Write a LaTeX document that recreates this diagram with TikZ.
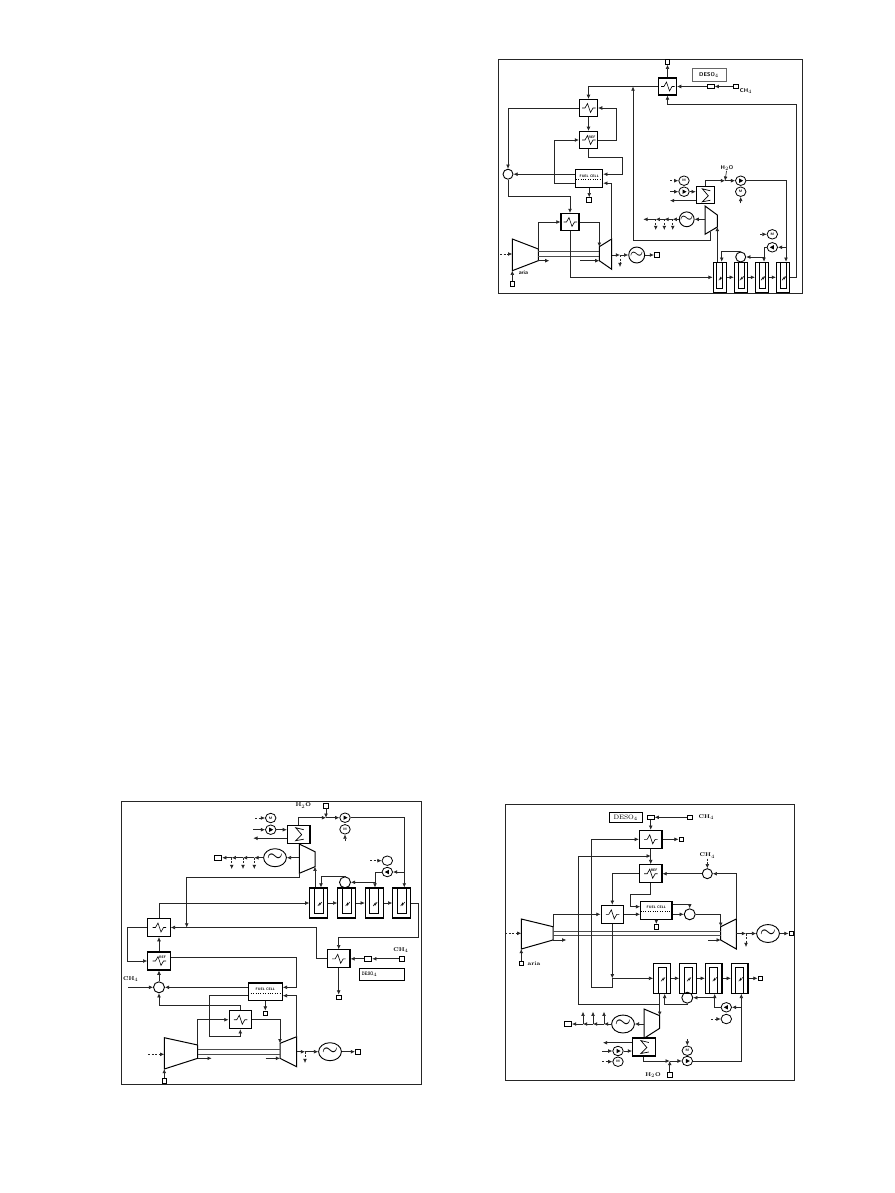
\documentclass[tikz,border=0pt]{standalone}
\usepackage{xcolor}
\usetikzlibrary{arrows.meta,shapes.geometric}
\newcommand{\labfont}{\fontsize{5.5}{6}\selectfont\bfseries}
\newcommand{\tinyfont}{\fontsize{3.5}{4}\selectfont\bfseries\sffamily}

\begin{document}
\begin{tikzpicture}[x=1pt, y=-1pt, >={Latex[length=4.2pt,width=3.8pt]}]

	% Styles
	\tikzstyle{frame} = [draw=black!85, line width=0.9pt]
	\tikzstyle{pipe} = [draw=black!85, line width=0.65pt]
	\tikzstyle{flow} = [pipe, ->]
	\tikzstyle{dashflow} = [flow, dash pattern=on 2pt off 1.5pt]
	\tikzstyle{shaft} = [draw=black!70, line width=0.7pt]
	\tikzstyle{machine} = [draw=black, line width=1pt]
	\tikzstyle{hx} = [rectangle, draw, line width=1.1pt, inner sep=0pt, minimum width=18pt, minimum height=17pt,
		path picture={\draw[line width=0.6pt] ([xshift=-6.5pt]path picture bounding box.center) -- ++(3pt,0) -- ++(2.5pt,4.5pt) -- ++(3pt,-9pt) -- ++(2.5pt,4.5pt) -- ++(2.5pt,0);}]
	\tikzstyle{hxb} = [hx, minimum width=22.5pt, minimum height=18pt]
	\tikzstyle{hxs} = [rectangle, draw, line width=1.1pt, inner sep=0pt, minimum width=18pt, minimum height=17pt,
		path picture={\draw[line width=0.7pt] ([shift={(5pt,4.5pt)}]path picture bounding box.center) -- ++(-8pt,2pt) -- ++(6pt,-7pt) -- ++(-6pt,-6pt) -- ++(8pt,1.5pt);}]
	\tikzstyle{hxsb} = [hxs, minimum width=22.5pt, minimum height=18pt]
	\tikzstyle{ref} = [label={[label distance=-7.5pt, xshift=3.5pt, font=\tinyfont, inner sep=0pt]north:REF}]
	\tikzstyle{fuel} = [rectangle, draw, line width=1.1pt, inner sep=0pt, font=\tinyfont, text height=3pt, text depth=6pt, minimum height=17.5pt,
		path picture={\draw[dotted, line width=0.4pt] ([yshift=-1pt]path picture bounding box.west) -- ([yshift=-1pt]path picture bounding box.east);}]
	\tikzstyle{cell} = [rectangle, draw, line width=1.1pt, inner sep=0pt, minimum width=13pt, minimum height=30pt,
		path picture={\draw[line width=0.5pt] ([shift={(-3pt,15pt)}]path picture bounding box.center) -- ++(0,-26pt) -- ++(6pt,0) -- ++(0,26pt);
			\draw[line width=0.5pt] ([shift={(-1pt,-3pt)}]path picture bounding box.center) -- ++(2pt,3pt) -- ++(0,-2pt) -- ++(2pt,3pt);}]
	\tikzstyle{cellb} = [rectangle, draw, line width=1.1pt, inner sep=0pt, minimum width=17.8pt, minimum height=30pt,
		path picture={\draw[line width=0.5pt] ([shift={(-4.5pt,15pt)}]path picture bounding box.center) -- ++(0,-25pt) -- ++(9pt,0) -- ++(0,25pt);
			\draw[line width=0.5pt] ([shift={(-1pt,-3pt)}]path picture bounding box.center) -- ++(2pt,3pt) -- ++(0,-2pt) -- ++(2pt,3pt);}]
	\tikzstyle{celln} = [rectangle, draw, line width=1.1pt, inner sep=0pt, minimum width=16.6pt, minimum height=30pt,
		path picture={\draw[line width=0.5pt] ([shift={(-4pt,-15pt)}]path picture bounding box.center) -- ++(0,26pt) -- ++(8pt,0) -- ++(0,-26pt);
			\draw[line width=0.5pt] ([shift={(-1pt,-3pt)}]path picture bounding box.center) -- ++(2pt,3pt) -- ++(0,-2pt) -- ++(2pt,3pt);}]
	\tikzstyle{mix} = [circle, draw, line width=0.9pt, inner sep=0pt, minimum size=10pt]
	\tikzstyle{motor} = [ellipse, draw, line width=0.8pt, inner sep=0pt, minimum width=10.5pt, minimum height=9.5pt, font=\tinyfont]
	\tikzstyle{pump} = [ellipse, draw, line width=0.8pt, inner sep=0pt, minimum width=10.5pt, minimum height=9.5pt,
		path picture={\fill ([xshift=2.5pt]path picture bounding box.center) -- ++(-4pt,2.2pt) -- ++(0,-4.4pt) -- cycle;}]
	\tikzstyle{pumpl} = [ellipse, draw, line width=0.8pt, inner sep=0pt, minimum width=10.5pt, minimum height=9.5pt,
		path picture={\fill ([xshift=-2.5pt]path picture bounding box.center) -- ++(4pt,2.2pt) -- ++(0,-4.4pt) -- cycle;}]
	\tikzstyle{gen} = [circle, draw, line width=0.9pt, inner sep=0pt, minimum size=16pt, font=\LARGE]
	\tikzstyle{genb} = [ellipse, draw, line width=0.9pt, inner sep=0pt, minimum width=21.5pt, minimum height=18pt, font=\huge]
	\tikzstyle{port} = [rectangle, draw, line width=0.9pt, inner sep=0pt, minimum size=4.6pt]
	\tikzstyle{portw} = [port, minimum width=7pt]
	\tikzstyle{lab} = [inner sep=0pt, font=\labfont]
	\tikzstyle{labs} = [lab, font=\labfont\sffamily]

	\path[fill=white, use as bounding box] (0,0) rectangle (894,1193);

	% Frames
	\draw[frame] (498,59) rectangle (802,293);
	\draw[frame] (121.7,801.7) rectangle (421,1084.3);
	\draw[frame] (505.3,804.3) rectangle (794,1080);

	% ---- upper plant ----
	% Nodes
	\node[hx] (aHa) at (667.5,86.5) {};
	\node[port] (aPa) at (667.5,62) {};
	\node[rectangle, draw=black!60, line width=0.4pt, minimum width=34pt, minimum height=13pt, inner sep=0pt, font=\labfont\sffamily] (aDes) at (709,75) {DESO$_4$};
	\node[portw] (aPb) at (710.7,86.5) {};
	\node[port] (aPc) at (736,86.5) {};
	\node[labs] (aLc) at (746,91) {CH$_4$};
	\node[hx] (aHb) at (588.5,108) {};
	\node[hx, ref] (aHc) at (588.5,140) {};
	\node[fuel, minimum width=27pt] (aFc) at (589.2,178.7) {FUEL CELL};
	\node[port] (aPd) at (589.2,200) {};
	\node[mix] (aMx) at (508,174.2) {};
	\node[hx] (aHd) at (570,222) {};
	\node[hxs] (aHe) at (705.3,195.3) {};
	\node[motor] (aMa) at (684,180.7) {M};
	\node[pump] (aPm1) at (684,191.7) {};
	\node[pump] (aPm2) at (740.7,180.7) {};
	\node[motor] (aMb) at (740.7,191.7) {M};
	\node[labs] (aLh) at (727,168) {H$_2$O};
	\node[gen, minimum size=14pt] (aGb) at (686.7,219.3) {$\sim$};
	\node[gen] (aGa) at (636.7,255) {$\sim$};
	\node[port] (aPf) at (656.7,255) {};
	\node[port] (aPe) at (512.3,284) {};
	\node[labs] (aLa) at (523.5,272.7) {aria};
	\node[cell] (aCe1) at (719.7,277.3) {};
	\node[cell] (aCe2) at (740.8,277.3) {};
	\node[cell] (aCe3) at (762,277.3) {};
	\node[cell] (aCe4) at (783,277.3) {};
	\node[mix] (aMy) at (740.7,257) {};
	\node[pumpl] (aPm3) at (772.3,247.3) {};
	\node[motor] (aMc) at (772.3,234.3) {M};

	% Machines
	\coordinate (aCa) at (512.3,239);
	\coordinate (aCb) at (538.3,249);
	\coordinate (aCc) at (538.3,260.7);
	\coordinate (aCd) at (512.3,270.7);
	\coordinate (aCi) at (512.3,254);
	\coordinate (aTa) at (599.3,246.7);
	\coordinate (aTb) at (611.7,239);
	\coordinate (aTc) at (611.7,269.3);
	\coordinate (aTd) at (599.3,260.7);
	\coordinate (aTe) at (611.7,255);
	\coordinate (aUa) at (705,206);
	\coordinate (aUb) at (717.3,215);
	\coordinate (aUc) at (717.3,227);
	\coordinate (aUd) at (705,234.3);
	\coordinate (aUe) at (705,219.3);
	\coordinate (aUf) at (710,231.8);
	\draw[machine] (aCa) -- (aCb) -- (aCc) -- (aCd) -- cycle;
	\draw[machine] (aTa) -- (aTb) -- (aTc) -- (aTd) -- cycle;
	\draw[machine] (aUa) -- (aUb) -- (aUc) -- (aUd) -- cycle;

	% Free ends
	\coordinate (aIn) at (500,254);
	\coordinate (aXa) at (549.3,260.7);
	\coordinate (aXb) at (580,260.7);
	\coordinate (aJa) at (633,86.5);
	\coordinate (aJb) at (620,255);
	\coordinate (aDa) at (620,267);
	\coordinate (aJc) at (725,180.7);
	\coordinate (aIa) at (670,180.7);
	\coordinate (aIb) at (670,191.7);
	\coordinate (aOa) at (670,200.6);
	\coordinate (aIc) at (740.7,203.3);
	\coordinate (aJd) at (672.7,219.3);
	\coordinate (aJe) at (664.3,219.3);
	\coordinate (aJf) at (655.7,219.3);
	\coordinate (aOb) at (643.3,219.3);
	\coordinate (aDb) at (672.7,230);
	\coordinate (aDc) at (664.3,230);
	\coordinate (aDd) at (655.7,230);
	\coordinate (aIe) at (760,234.3);

	% Arrows
	\draw[shaft] (538.3,251.3) -- (599.3,251.3);
	\draw[shaft] (538.3,256.7) -- (599.3,256.7);
	\draw[flow] (aPc) -- (aPb);
	\draw[flow] (aPb) -- (aHa);
	\draw[flow] (aHa) -- (aPa);
	\draw[flow] (aHa) -| (aHb);
	\draw[flow] (aHb) -- (aHc);
	\draw[flow] (aHc) -- (616,140) |- (aHb);
	\draw[flow] (aHb) -| (aMx);
	\draw[flow] ([yshift=-4.5pt]aFc.west) -| (554.3,140) -- (aHc);
	\draw[flow] (aHc) -- (588.5,157.3) -| (622.7,174.2) -- ([yshift=4.5pt]aFc.east);
	\draw[flow] ([yshift=4.5pt]aFc.west) -- (aMx);
	\draw[flow] (aMx) -- (508,196.7) -| (aHd);
	\draw[flow] (aFc) -- (aPd);
	\draw[flow] (aCb) |- (aHd);
	\draw[flow] (aHd) -| (aTa);
	\draw[flow] (aTb) |- ([yshift=-4.5pt]aFc.east);
	\draw[flow] (aHd) |- (aCe1);
	\draw[dashflow] (aIn) -- (aCi);
	\draw[flow] (aPe) -- (aCd);
	\draw[flow] (aCc) -- (aXa);
	\draw[flow] (aXb) -- (aTd);
	\draw[flow] (aTe) -- (aJb);
	\draw[flow] (aJb) -- (aGa);
	\draw[dashflow] (aJb) -- (aDa);
	\draw[flow] (aGa) -- (aPf);
	\draw[flow] (aLh) -- (aJc);
	\draw[flow] (aHe) |- (aJc);
	\draw[flow] (aJc) -- (aPm2);
	\draw[flow] (aPm2) -| ([xshift=3pt]aCe4.north);
	\draw[dashflow] (aIa) -- (aMa);
	\draw[flow] (aIb) -- (aPm1);
	\draw[flow] (aPm1) -- ([yshift=3.6pt]aHe.west);
	\draw[flow] ([yshift=-5.3pt]aHe.west) -- (aOa);
	\draw[dashflow] (aIc) -- (aMb);
	\draw[flow] (aUe) -- (aGb);
	\draw[flow] (aGb) -- (aJd);
	\draw[flow] (aJd) -- (aJe);
	\draw[flow] (aJe) -- (aJf);
	\draw[flow] (aJf) -- (aOb);
	\draw[dashflow] (aJd) -- (aDb);
	\draw[dashflow] (aJe) -- (aDc);
	\draw[dashflow] (aJf) -- (aDd);
	\draw[flow] (aUf) -- (710,240.7) -| (aJa);
	\draw[flow] ([xshift=-2.4pt]aCe1.north) -- (aUc);
	\draw[flow] (aMy) -- (740.7,251.7) -| ([xshift=2pt]aCe1.north);
	\draw[flow] (aCe1) -- (aCe2);
	\draw[flow] (aCe2) -- (aCe3);
	\draw[flow] (aCe3) -- (aCe4);
	\draw[flow] (aPm3) -| ([xshift=2pt]aCe3.north);
	\draw[flow] (764,257) -- (aMy);
	\draw[flow] (786,247.3) -- (aPm3);
	\draw[dashflow] (aIe) -- (aMc);
	\draw[flow] (aCe4) -- (796,277.3) |- (667.5,104.3) -- (aHa);

	% ---- lower left plant ----
	% Nodes
	\node[hxsb] (bHe) at (298.7,834.2) {};
	\node[lab] (bLh) at (303.3,805.7) {H$_2$O};
	\node[port] (bPa) at (326,805.7) {};
	\node[pump] (bPm2) at (345,817.7) {};
	\node[motor] (bMb) at (345,829.3) {M};
	\node[motor] (bMa) at (270.7,818) {M};
	\node[pump] (bPm1) at (270.7,829.7) {};
	\node[genb] (bGb) at (275,857.7) {$\sim$};
	\node[portw] (bPg) at (218.3,857.7) {};
	\node[cellb] (bCe1) at (318.8,903) {};
	\node[cellb] (bCe2) at (346.7,903) {};
	\node[cellb] (bCe3) at (374.2,903) {};
	\node[cellb] (bCe4) at (401.7,903) {};
	\node[mix, minimum size=11pt] (bMy) at (345,882.3) {};
	\node[pumpl] (bPm3) at (387.3,872) {};
	\node[motor] (bMc) at (387.3,860.7) {};
	\node[hxb] (bHf) at (159,927.5) {};
	\node[hxb, ref] (bHc) at (159,961) {};
	\node[hxb] (bHg) at (338.7,958.8) {};
	\node[portw] (bRc) at (368.3,958.8) {};
	\node[port] (bPr) at (401.7,958.8) {};
	\node[lab] (bLc) at (401,950) {CH$_4$};
	\node[rectangle, draw, line width=0.8pt, minimum width=45pt, minimum height=11.7pt, inner sep=1.5pt, text width=40pt, font=\labfont\ttfamily] (bDes) at (381.8,974.2) {DESO$_4$};
	\node[port] (bPb) at (338.7,997.3) {};
	\node[fuel, minimum width=34pt] (bFc) at (265.3,991.7) {FUEL CELL};
	\node[mix, minimum size=11pt] (bMx) at (159,987.3) {};
	\node[lab] (bLd) at (130.7,979.3) {CH$_4$};
	\node[hxb] (bHh) at (240.3,1019.7) {};
	\node[port] (bPc) at (265.3,1013.3) {};
	\node[port] (bPe) at (164.3,1080.7) {};
	\node[genb] (bGa) at (330,1051.7) {$\sim$};
	\node[port] (bPf) at (357.7,1051.7) {};

	% Machines
	\coordinate (bCa) at (164.3,1037.7);
	\coordinate (bCb) at (197.7,1045);
	\coordinate (bCc) at (197.7,1058.3);
	\coordinate (bCd) at (164.3,1069);
	\coordinate (bCi) at (164.3,1054.3);
	\coordinate (bTa) at (280,1043.3);
	\coordinate (bTb) at (296.7,1036.7);
	\coordinate (bTc) at (296.7,1066.7);
	\coordinate (bTd) at (280,1058.3);
	\coordinate (bTe) at (296.7,1051.7);
	\coordinate (bUa) at (299.3,844);
	\coordinate (bUb) at (315,851.7);
	\coordinate (bUc) at (315,866.7);
	\coordinate (bUd) at (299.3,873.3);
	\coordinate (bUe) at (299.3,857.7);
	\draw[machine] (bCa) -- (bCb) -- (bCc) -- (bCd) -- cycle;
	\draw[machine] (bTa) -- (bTb) -- (bTc) -- (bTd) -- cycle;
	\draw[machine] (bUa) -- (bUb) -- (bUc) -- (bUd) -- cycle;

	% Free ends
	\coordinate (bJa) at (326,817.7);
	\coordinate (bIa) at (255,818);
	\coordinate (bIb) at (253.3,829.7);
	\coordinate (bOa) at (253.3,838.2);
	\coordinate (bIc) at (345,841);
	\coordinate (bJd) at (254.3,857.7);
	\coordinate (bJe) at (243,857.7);
	\coordinate (bJf) at (231.7,857.7);
	\coordinate (bDb) at (254.3,869);
	\coordinate (bDc) at (243,869);
	\coordinate (bDd) at (231.7,869);
	\coordinate (bIe) at (370,860.7);
	\coordinate (bJg) at (186.7,927.5);
	\coordinate (bIm) at (128.3,987.3);
	\coordinate (bIn) at (148.3,1054.3);
	\coordinate (bXa) at (211.7,1058.3);
	\coordinate (bXb) at (265.7,1058.3);
	\coordinate (bJb) at (305,1051.7);
	\coordinate (bDa) at (305,1063);

	% Arrows
	\draw[shaft] (197.7,1049) -- (280,1049);
	\draw[shaft] (197.7,1054.3) -- (280,1054.3);
	\draw[flow] (bHe) |- (bJa);
	\draw[flow] (bPa) -- (bJa);
	\draw[flow] (bJa) -- (bPm2);
	\draw[flow] (bPm2) -| ([xshift=2.6pt]bCe4.north);
	\draw[dashflow] (bIa) -- (bMa);
	\draw[flow] (bIb) -- (bPm1);
	\draw[flow] (bPm1) -- ([yshift=4.5pt]bHe.west);
	\draw[flow] ([yshift=-4pt]bHe.west) -- (bOa);
	\draw[dashflow] (bIc) -- (bMb);
	\draw[flow] (bUe) -- (bGb);
	\draw[flow] (bGb) -- (bJd);
	\draw[flow] (bJd) -- (bJe);
	\draw[flow] (bJe) -- (bJf);
	\draw[flow] (bJf) -- (bPg);
	\draw[dashflow] (bJd) -- (bDb);
	\draw[dashflow] (bJe) -- (bDc);
	\draw[dashflow] (bJf) -- (bDd);
	\draw[flow] ([xshift=-3.8pt]bCe1.north) -- (bUc);
	\draw[flow] (bMy) -- (345,876.7) -| ([xshift=2.2pt]bCe1.north);
	\draw[flow] (bCe1) -- (bCe2);
	\draw[flow] (bCe2) -- (bCe3);
	\draw[flow] (bCe3) -- (bCe4);
	\draw[flow] (bPm3) -| ([xshift=0.8pt]bCe3.north);
	\draw[flow] (375,882.3) -- (bMy);
	\draw[flow] (404.3,872) -- (bPm3);
	\draw[dashflow] (bIe) -- (bMc);
	\draw[flow] (bHf) |- (bCe1);
	\draw[flow] (bCe4) -- (418.3,903) |- (338.7,937.7) -- (bHg);
	\draw[flow] (bPr) -- (bRc);
	\draw[flow] (bRc) -- (bHg);
	\draw[flow] (bHg) -- (bPb);
	\draw[flow] (bHg) -- (316,958.8) |- (bHf);
	\draw[flow] (bUd) -- (299.3,877) -| (bJg);
	\draw[flow] (bHf) -- (127.3,927.5) |- (bHc);
	\draw[flow] (bHc) -- (bHf);
	\draw[flow] ([yshift=3.7pt]bHc.east) -- (296.7,957.3) |- ([yshift=4.4pt]bFc.east);
	\draw[flow] ([yshift=4.4pt]bFc.west) -- (bMx);
	\draw[flow] (bIm) -- (bMx);
	\draw[flow] (bMx) -- (bHc);
	\draw[flow] (bHh) -- (240.3,1005.7) -| (bMx);
	\draw[flow] ([yshift=-4pt]bFc.west) -| (209.3,1036.7) -| (bHh);
	\draw[flow] (bCb) |- (bHh);
	\draw[flow] (bHh) -| (bTa);
	\draw[flow] (bTb) |- ([yshift=-4pt]bFc.east);
	\draw[flow] (bFc) -- (bPc);
	\draw[flow] (bCc) -- (bXa);
	\draw[flow] (bXb) -- (bTd);
	\draw[dashflow] (bIn) -- (bCi);
	\draw[flow] (bPe) -- (bCd);
	\draw[flow] (bTe) -- (bJb);
	\draw[flow] (bJb) -- (bGa);
	\draw[dashflow] (bJb) -- (bDa);
	\draw[flow] (bGa) -- (bPf);

	% ---- lower right plant ----
	% Nodes
	\node[rectangle, draw, line width=0.8pt, minimum width=33pt, minimum height=10pt, inner sep=0pt, font=\fontsize{6.5}{7}\selectfont] (cDes) at (625.7,817.3) {DESO$_4$};
	\node[portw] (cRa) at (650.7,817.3) {};
	\node[port] (cPa) at (689.7,817.3) {};
	\node[lab] (cLa) at (706.3,817.3) {CH$_4$};
	\node[hxb] (cHa) at (650.7,839.3) {};
	\node[port] (cPb) at (681.3,839.3) {};
	\node[hxb, ref] (cHc) at (650.7,873.7) {};
	\node[hxb] (cHd) at (612.3,914.3) {};
	\node[mix] (cMx) at (707.3,873.7) {};
	\node[lab] (cLb) at (707.3,855.7) {CH$_4$};
	\node[fuel, minimum width=31.3pt] (cFc) at (656.3,910.3) {FUEL CELL};
	\node[mix, minimum size=11pt] (cMy) at (689.7,914.3) {};
	\node[port] (cPc) at (656.3,926.7) {};
	\node[port] (cPe) at (521.3,963.3) {};
	\node[lab] (cLe) at (534,963.3) {aria};
	\node[genb] (cGa) at (768,933.5) {$\sim$};
	\node[port] (cPf) at (791.3,933.5) {};
	\node[celln] (cCe1) at (662,978.3) {};
	\node[celln] (cCe2) at (688,978.3) {};
	\node[celln] (cCe3) at (713.7,978.3) {};
	\node[celln] (cCe4) at (739.7,978.3) {};
	\node[port] (cPg) at (760.3,978.3) {};
	\node[mix, minimum size=11pt] (cMz) at (687.3,997.7) {};
	\node[pumpl] (cPm3) at (726.3,1007.3) {};
	\node[motor] (cMc) at (726.3,1019) {};
	\node[genb] (cGb) at (623,1024) {$\sim$};
	\node[portw] (cPh) at (568,1024) {};
	\node[hxsb] (cHe) at (643.8,1047) {};
	\node[pump] (cPm1) at (618,1051) {};
	\node[motor] (cMa) at (618,1061.7) {M};
	\node[pump] (cPm2) at (687.3,1061) {};
	\node[motor] (cMb) at (687.3,1050.7) {M};
	\node[port] (cPi) at (669.7,1075) {};
	\node[lab] (cLh) at (653,1075) {H$_2$O};

	% Machines
	\coordinate (cCa) at (521.3,919);
	\coordinate (cCb) at (553,926.7);
	\coordinate (cCc) at (553,940);
	\coordinate (cCd) at (521.3,949);
	\coordinate (cCi) at (521.3,933.3);
	\coordinate (cTa) at (720.7,926.7);
	\coordinate (cTb) at (736.3,919);
	\coordinate (cTc) at (736.3,949);
	\coordinate (cTd) at (720.7,940);
	\coordinate (cTe) at (736.3,933.5);
	\coordinate (cUa) at (644,1009);
	\coordinate (cUb) at (659.7,1015.7);
	\coordinate (cUc) at (659.7,1028.3);
	\coordinate (cUd) at (644,1038.3);
	\coordinate (cUe) at (644,1024);
	\coordinate (cUf) at (659.7,1004.3);
	\draw[machine] (cCa) -- (cCb) -- (cCc) -- (cCd) -- cycle;
	\draw[machine] (cTa) -- (cTb) -- (cTc) -- (cTd) -- cycle;
	\draw[machine] (cUa) -- (cUb) -- (cUc) -- (cUd) -- cycle;

	% Free ends
	\coordinate (cJa) at (650.7,856);
	\coordinate (cJh) at (612.3,978.3);
	\coordinate (cIn) at (505.3,933.3);
	\coordinate (cXa) at (566.3,940);
	\coordinate (cXb) at (708,940);
	\coordinate (cJb) at (746,933.5);
	\coordinate (cDa) at (746,947);
	\coordinate (cIe) at (711,1019);
	\coordinate (cJd) at (604,1024);
	\coordinate (cJe) at (593,1024);
	\coordinate (cJf) at (583,1024);
	\coordinate (cDb) at (604,1011.7);
	\coordinate (cDc) at (593,1011.7);
	\coordinate (cDd) at (583,1011.7);
	\coordinate (cOa) at (603,1042.7);
	\coordinate (cIb) at (602,1051);
	\coordinate (cIa) at (602,1061.7);
	\coordinate (cJc) at (669.7,1061);
	\coordinate (cIc) at (687.3,1039);

	% Arrows
	\draw[shaft] (553,931) -- (720.7,931);
	\draw[shaft] (553,935.7) -- (720.7,935.7);
	\draw[flow] (cPa) -- (cRa);
	\draw[flow] (cRa) -- (cHa);
	\draw[flow] (cHa) -- (cPb);
	\draw[flow] (cHa) -- (cHc);
	\draw[flow] (cHc) -| (cHd);
	\draw[flow] (cMx) -- (cHc);
	\draw[dashflow] (cLb) -- (cMx);
	\draw[flow] (cTb) |- (cMx);
	\draw[flow] (cHc) -- (650.7,894.3) -| (630.3,906.7) -- ([yshift=3.6pt]cFc.west);
	\draw[flow] (cHd) -- ([yshift=-4pt]cFc.west);
	\draw[flow] ([yshift=6pt]cFc.east) -| (cMy);
	\draw[flow] ([yshift=-4pt]cFc.east) -- (cMy);
	\draw[flow] (cMy) -| (cTa);
	\draw[flow] (cFc) -- (cPc);
	\draw[flow] (cCb) |- (cHd);
	\draw[dashflow] (cIn) -- (cCi);
	\draw[flow] (cPe) -- (cCd);
	\draw[flow] (cCc) -- (cXa);
	\draw[flow] (cXb) -- (cTd);
	\draw[flow] (cTe) -- (cJb);
	\draw[flow] (cJb) -- (cGa);
	\draw[dashflow] (cJb) -- (cDa);
	\draw[flow] (cGa) -- (cPf);
	\draw[flow] (cHd) -- (cJh);
	\draw[flow] (cJh) -- (cCe1);
	\draw[flow] (cJh) -- (612.3,987.3) -| (591.3,839.3) -- (cHa);
	\draw[flow] (cUf) -- (578.7,1004.3) |- (cJa);
	\draw[flow] (cCe1) -- (cCe2);
	\draw[flow] (cCe2) -- (cCe3);
	\draw[flow] (cCe3) -- (cCe4);
	\draw[flow] (cCe4) -- (cPg);
	\draw[flow] ([xshift=-2.3pt]cCe1.south) -- (cUb);
	\draw[flow] (cMz) -- (687.3,1004.3) -| ([xshift=2.7pt]cCe1.south);
	\draw[flow] (cPm3) -| ([xshift=1pt]cCe3.south);
	\draw[flow] (714.7,997.7) -- (cMz);
	\draw[flow] (741.3,1007.3) -- (cPm3);
	\draw[dashflow] (cIe) -- (cMc);
	\draw[flow] (cUe) -- (cGb);
	\draw[flow] (cGb) -- (cJd);
	\draw[flow] (cJd) -- (cJe);
	\draw[flow] (cJe) -- (cJf);
	\draw[flow] (cJf) -- (cPh);
	\draw[flow] (cJd) -- (cDb);
	\draw[flow] (cJe) -- (cDc);
	\draw[flow] (cJf) -- (cDd);
	\draw[flow] ([yshift=4.3pt]cHe.west) -- (cOa);
	\draw[flow] (cIb) -- (cPm1);
	\draw[flow] (cPm1) -- ([yshift=-4pt]cHe.west);
	\draw[dashflow] (cIa) -- (cMa);
	\draw[flow] (cHe) |- (cJc);
	\draw[flow] (cPi) -- (cJc);
	\draw[flow] (cJc) -- (cPm2);
	\draw[flow] (cPm2) -| ([xshift=1.6pt]cCe4.south);
	\draw[dashflow] (cIc) -- (cMb);

\end{tikzpicture}
\end{document}
